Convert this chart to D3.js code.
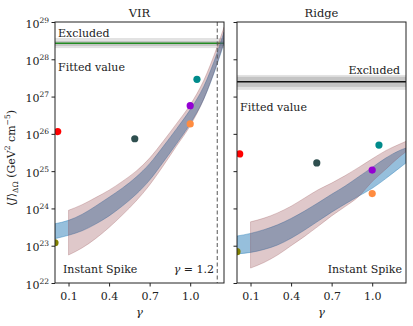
<!DOCTYPE html>
<html>
<head>
<meta charset="utf-8">
<script src="https://cdn.jsdelivr.net/npm/d3@7"></script>
<style>
  body { margin: 0; background: #fff; }
  svg text { font-family: "DejaVu Serif", serif; fill: #222; }
</style>
</head>
<body>
<svg id="chart" width="413" height="326"></svg>
<script>
// gamma grid for the fitted bands
const gammaGrid = [0, 0.1, 0.2, 0.3, 0.4, 0.5, 0.6, 0.7, 0.8, 0.9, 1.0, 1.1, 1.2, 1.25];
const gammaGridRed = gammaGrid.slice(1);

// log10 <J> bands
const virBlueLo  = [23.19, 23.28, 23.40, 23.58, 23.80, 24.07, 24.38, 24.76, 25.24, 25.74, 26.27, 26.93, 27.88, 28.43];
const virBlueHi  = [23.59, 23.68, 23.84, 24.06, 24.30, 24.55, 24.84, 25.20, 25.66, 26.14, 26.65, 27.27, 28.18, 28.73];
const virRedLo   = [22.75, 22.94, 23.19, 23.49, 23.83, 24.20, 24.63, 25.14, 25.68, 26.22, 26.93, 27.90, 28.46];
const virRedHi   = [23.95, 24.10, 24.29, 24.49, 24.73, 25.00, 25.35, 25.80, 26.28, 26.78, 27.43, 28.34, 28.86];

const ridgeBlueLo = [22.78, 22.82, 22.90, 23.02, 23.20, 23.42, 23.66, 23.90, 24.12, 24.33, 24.54, 24.80, 25.08, 25.22];
const ridgeBlueHi = [23.26, 23.33, 23.43, 23.56, 23.73, 23.93, 24.15, 24.38, 24.60, 24.85, 25.10, 25.35, 25.55, 25.62];
const ridgeRedLo  = [22.40, 22.55, 22.75, 23.00, 23.25, 23.52, 23.80, 24.05, 24.32, 24.72, 25.05, 25.38, 25.52];
const ridgeRedHi  = [23.64, 23.74, 23.88, 24.06, 24.28, 24.50, 24.68, 24.88, 25.10, 25.33, 25.55, 25.72, 25.80];

// individual profile points
const pointColors = ["#ff0000", "#2f4f4f", "#008b8b", "#9400d3", "#ff8c40", "#808000"];
const pointGamma  = [0.02, 0.59, 1.05, 1.0, 1.0, 0.0];
const virPoints   = [1.15e26, 7.4e25, 2.9e27, 5.7e26, 1.85e26, 1.2e23];
const ridgePoints = [2.9e25, 1.66e25, 5.0e25, 1.07e25, 2.5e24, 6.9e22];

// excluded level (log10): line, inner band, outer band
const virExcluded   = [28.43, 28.36, 28.49, 28.30, 28.57];
const ridgeExcluded = [27.40, 27.26, 27.53, 27.18, 27.58];

const yTicks = [1e22, 1e23, 1e24, 1e25, 1e26, 1e27, 1e28, 1e29];
const xTicks = [0.1, 0.4, 0.7, 1.0];

const svg = d3.select("#chart");
const plotTop = 22, plotBottom = 283;

const y = d3.scaleLog().domain([1e22, 1e29]).range([plotBottom, plotTop]);

function drawPanel(opts) {
    const x = d3.scaleLinear().domain([0, 1.25]).range([opts.left, opts.right]);
    const g = svg.append("g");

    g.append("clipPath").attr("id", opts.id + "-clip")
        .append("rect")
        .attr("x", opts.left).attr("y", plotTop)
        .attr("width", opts.right - opts.left).attr("height", plotBottom - plotTop);

    const plot = g.append("g").attr("clip-path", `url(#${opts.id}-clip)`);

    // excluded band
    const ex = opts.excluded;
    plot.append("rect")
        .attr("x", opts.left).attr("width", opts.right - opts.left)
        .attr("y", y(Math.pow(10, ex[4]))).attr("height", y(Math.pow(10, ex[3])) - y(Math.pow(10, ex[4])))
        .attr("fill", "#e2e2e2");
    plot.append("rect")
        .attr("x", opts.left).attr("width", opts.right - opts.left)
        .attr("y", y(Math.pow(10, ex[2]))).attr("height", y(Math.pow(10, ex[1])) - y(Math.pow(10, ex[2])))
        .attr("fill", "#c4c4c4");
    plot.append("line")
        .attr("x1", opts.left).attr("x2", opts.right)
        .attr("y1", y(Math.pow(10, ex[0]))).attr("y2", y(Math.pow(10, ex[0])))
        .attr("stroke", opts.lineColor).attr("stroke-width", 1.5);

    const area = d3.area()
        .x(d => x(d.g))
        .y0(d => y(Math.pow(10, d.lo)))
        .y1(d => y(Math.pow(10, d.hi)))
        .curve(d3.curveMonotoneX);

    const redData = gammaGridRed.map((gm, i) => ({ g: gm, lo: opts.redLo[i], hi: opts.redHi[i] }));
    const blueData = gammaGrid.map((gm, i) => ({ g: gm, lo: opts.blueLo[i], hi: opts.blueHi[i] }));

    plot.append("path").datum(blueData)
        .attr("d", area)
        .attr("fill", "#1f77b4").attr("fill-opacity", 0.47)
        .attr("stroke", "#1f77b4").attr("stroke-opacity", 0.5).attr("stroke-width", 0.8);
    plot.append("path").datum(redData)
        .attr("d", area)
        .attr("fill", "#8c3a3f").attr("fill-opacity", 0.28)
        .attr("stroke", "#8c3a3f").attr("stroke-opacity", 0.3).attr("stroke-width", 0.8);

    // points
    plot.selectAll("circle.pt")
        .data(opts.points)
        .join("circle")
        .attr("class", "pt")
        .attr("cx", (d, i) => x(pointGamma[i]))
        .attr("cy", d => y(d))
        .attr("r", 3.6)
        .attr("fill", (d, i) => pointColors[i]);

    if (opts.dashed) {
        plot.append("line")
            .attr("x1", x(1.2)).attr("x2", x(1.2))
            .attr("y1", plotTop).attr("y2", plotBottom)
            .attr("stroke", "#555").attr("stroke-width", 1)
            .attr("stroke-dasharray", "4,2.5");
    }

    // frame
    g.append("rect")
        .attr("x", opts.left).attr("y", plotTop)
        .attr("width", opts.right - opts.left).attr("height", plotBottom - plotTop)
        .attr("fill", "none").attr("stroke", "#222").attr("stroke-width", 1);

    // axes
    const xAxis = g.append("g")
        .attr("transform", `translate(0,${plotBottom})`)
        .call(d3.axisBottom(x).tickValues(xTicks).tickSize(3.5).tickPadding(4)
            .tickFormat(d3.format(".1f")));
    xAxis.select(".domain").remove();
    xAxis.selectAll(".tick line").attr("stroke", "#222");
    xAxis.selectAll(".tick text").attr("font-size", 11).attr("font-family", "DejaVu Serif").attr("dy", "0.9em");

    const yAxis = g.append("g")
        .attr("transform", `translate(${opts.left},0)`)
        .call(d3.axisLeft(y).tickValues(yTicks).tickSize(3.5).tickFormat(""));
    yAxis.select(".domain").remove();
    yAxis.selectAll(".tick line").attr("stroke", "#222");

    if (opts.labels) {
        yAxis.selectAll(".tick").each(function (d) {
            const t = d3.select(this).append("text")
                .attr("x", -6).attr("y", 5)
                .attr("text-anchor", "end")
                .attr("font-size", 11)
                .attr("fill", "#222");
            t.append("tspan").text("10");
            t.append("tspan").attr("font-size", 7.5).attr("dy", -5)
                .text(Math.round(Math.log10(d)));
        });
    }

    // title
    g.append("text")
        .attr("x", (opts.left + opts.right) / 2).attr("y", 17)
        .attr("text-anchor", "middle").attr("font-size", 11.5)
        .text(opts.title);

    // x label
    g.append("text")
        .attr("x", (opts.left + opts.right) / 2).attr("y", 316)
        .attr("text-anchor", "middle").attr("font-size", 11.5)
        .attr("font-style", "italic")
        .text("γ");

    return { g, x };
}

const vir = drawPanel({
    id: "vir", title: "VIR", left: 55, right: 224,
    blueLo: virBlueLo, blueHi: virBlueHi, redLo: virRedLo, redHi: virRedHi,
    points: virPoints, excluded: virExcluded, lineColor: "#228b22",
    dashed: true, labels: true
});

const ridge = drawPanel({
    id: "ridge", title: "Ridge", left: 237, right: 406,
    blueLo: ridgeBlueLo, blueHi: ridgeBlueHi, redLo: ridgeRedLo, redHi: ridgeRedHi,
    points: ridgePoints, excluded: ridgeExcluded, lineColor: "#111",
    dashed: false, labels: false
});

// annotations
const ann = [
    { g: vir.g, x: 58, y: 37, a: "start", t: "Excluded" },
    { g: vir.g, x: 58, y: 71, a: "start", t: "Fitted value" },
    { g: vir.g, x: 63, y: 273, a: "start", t: "Instant Spike" },
    { g: ridge.g, x: 400, y: 74, a: "end", t: "Excluded" },
    { g: ridge.g, x: 240, y: 111, a: "start", t: "Fitted value" },
    { g: ridge.g, x: 402, y: 273, a: "end", t: "Instant Spike" }
];
ann.forEach(d => {
    d.g.append("text")
        .attr("x", d.x).attr("y", d.y)
        .attr("text-anchor", d.a).attr("font-size", 11)
        .text(d.t);
});

const gl = vir.g.append("text")
    .attr("x", 214).attr("y", 273)
    .attr("text-anchor", "end").attr("font-size", 11);
gl.append("tspan").attr("font-style", "italic").text("γ");
gl.append("tspan").text(" = 1.2");

// y label
const yl = svg.append("text")
    .attr("transform", "translate(15,158) rotate(-90)")
    .attr("text-anchor", "middle").attr("font-size", 11);
yl.append("tspan").text("⟨");
yl.append("tspan").attr("font-style", "italic").text("J");
yl.append("tspan").text("⟩");
yl.append("tspan").attr("font-size", 7.5).attr("dy", 3).text("ΔΩ");
yl.append("tspan").attr("dy", -3).text(" (GeV");
yl.append("tspan").attr("font-size", 7.5).attr("dy", -5).text("2");
yl.append("tspan").attr("dy", 5).text(" cm");
yl.append("tspan").attr("font-size", 7.5).attr("dy", -5).text("−5");
yl.append("tspan").attr("dy", 5).text(")");
</script>
</body>
</html>
